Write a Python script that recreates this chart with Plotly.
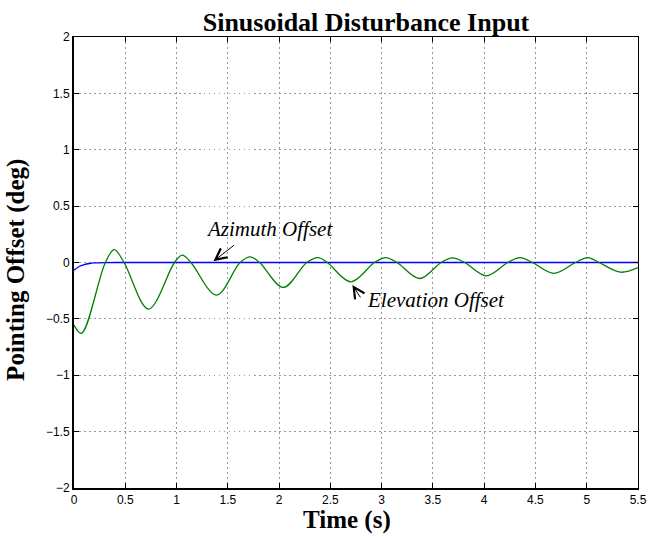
import plotly.graph_objects as go

# Azimuth pointing offset (deg) vs time (s)
time_az = [0.0, 0.05, 0.1, 0.15, 0.2, 0.3, 0.5, 5.5]
azimuth = [-0.068, -0.035, -0.018, -0.009, -0.004, -0.001, 0.0, 0.0]

# Elevation pointing offset (deg) vs time (s): extrema and zero crossings
time_el = [0.0, 0.073, 0.306, 0.392, 0.488, 0.727, 0.98, 1.055, 1.14, 1.39,
           1.62, 1.72, 1.81, 2.04, 2.27, 2.38, 2.47, 2.70, 2.93, 3.04, 3.15,
           3.37, 3.58, 3.69, 3.81, 4.02, 4.23, 4.35, 4.47, 4.68, 4.89, 5.01,
           5.12, 5.33, 5.5]
elevation = [-0.555, -0.628, 0.0, 0.115, 0.0, -0.413, 0.0, 0.065, 0.0, -0.289,
             0.0, 0.05, 0.0, -0.221, 0.0, 0.044, 0.0, -0.171, 0.0, 0.044, 0.0,
             -0.142, 0.0, 0.041, 0.0, -0.118, 0.0, 0.044, 0.0, -0.097, 0.0, 0.044,
             0.0, -0.086, -0.045]

x_ticks = [0, 0.5, 1, 1.5, 2, 2.5, 3, 3.5, 4, 4.5, 5, 5.5]
x_tick_labels = ["0", "0.5", "1", "1.5", "2", "2.5", "3", "3.5", "4", "4.5", "5", "5.5"]
y_ticks = [-2, -1.5, -1, -0.5, 0, 0.5, 1, 1.5, 2]
y_tick_labels = ["\u22122", "\u22121.5", "\u22121", "\u22120.5", "0", "0.5", "1", "1.5", "2"]

SERIF = "Liberation Serif, Times New Roman, serif"
SANS = "Liberation Sans, Arial, sans-serif"
GRID = dict(showgrid=True, gridcolor="#999999", gridwidth=1, griddash="1.5px,3.5px")

fig = go.Figure()
fig.add_trace(go.Scatter(x=time_az, y=azimuth, mode="lines",
                         line=dict(color="#0000ff", width=1.3, shape="spline", smoothing=0.6),
                         showlegend=False, hoverinfo="skip"))
fig.add_trace(go.Scatter(x=time_el, y=elevation, mode="lines",
                         line=dict(color="#008000", width=1.3, shape="spline", smoothing=1.0),
                         showlegend=False, hoverinfo="skip"))
# carrier for the mirrored top/right axes
fig.add_trace(go.Scatter(x=[], y=[], xaxis="x2", yaxis="y2", showlegend=False, hoverinfo="skip"))

fig.update_layout(
    width=657, height=537,
    margin=dict(l=74, r=10, t=37, b=49),
    paper_bgcolor="white", plot_bgcolor="white",
    title=dict(text="<b>Sinusoidal Disturbance Input</b>", font=dict(family=SERIF, size=26, color="black"),
               x=366 / 657, xanchor="center", xref="container",
               y=1 - 22 / 537, yanchor="middle", yref="container"),
    xaxis=dict(range=[0, 5.5], tickvals=x_ticks, ticktext=x_tick_labels,
               ticks="inside", ticklen=5, tickwidth=1, tickcolor="black",
               showline=True, linecolor="black", linewidth=2, zeroline=False,
               ticklabelstandoff=0,
               tickfont=dict(family=SANS, size=12, color="black"), **GRID),
    yaxis=dict(range=[-2, 2], tickvals=y_ticks, ticktext=y_tick_labels,
               ticks="inside", ticklen=5, tickwidth=1, tickcolor="black",
               showline=True, linecolor="black", linewidth=2, zeroline=False,
               tickfont=dict(family=SANS, size=12, color="black"), **GRID),
    xaxis2=dict(overlaying="x", side="top", anchor="y", range=[0, 5.5], tickvals=x_ticks,
                showticklabels=False, ticks="inside", ticklen=5, tickwidth=1, tickcolor="black",
                showline=True, linecolor="black", linewidth=1, showgrid=False, zeroline=False),
    yaxis2=dict(overlaying="y", side="right", anchor="x", range=[-2, 2], tickvals=y_ticks,
                showticklabels=False, ticks="inside", ticklen=5, tickwidth=1, tickcolor="black",
                showline=True, linecolor="black", linewidth=1, showgrid=False, zeroline=False),
)

annotations = [
    dict(text="<b>Time (s)</b>", xref="paper", yref="paper", x=0.4833, y=-0.0720,
         xanchor="center", yanchor="middle", showarrow=False,
         font=dict(family=SERIF, size=25, color="black")),
    dict(text="<b>Pointing Offset (deg)</b>", xref="paper", yref="paper", x=-0.1030, y=0.4834,
         xanchor="center", yanchor="middle", textangle=-90, showarrow=False,
         font=dict(family=SERIF, size=25, color="black")),
    dict(text="<i>Azimuth Offset</i>", x=1.906, y=0.297, xanchor="center", yanchor="middle",
         showarrow=False, font=dict(family=SERIF, size=21, color="black")),
    dict(text="<i>Elevation Offset</i>", x=3.53, y=-0.332, xanchor="center", yanchor="middle",
         showarrow=False, font=dict(family=SERIF, size=21, color="black")),
    dict(text="", x=1.36, y=0.012, ax=22, ay=-17, showarrow=True, arrowhead=5,
         arrowsize=2.2, arrowwidth=1, arrowcolor="black", standoff=0),
    dict(text="", x=2.715, y=-0.199, ax=9, ay=14, showarrow=True, arrowhead=5,
         arrowsize=2.2, arrowwidth=1, arrowcolor="black", standoff=0),
]
fig.update_layout(annotations=annotations)

fig.write_html("out.html")
